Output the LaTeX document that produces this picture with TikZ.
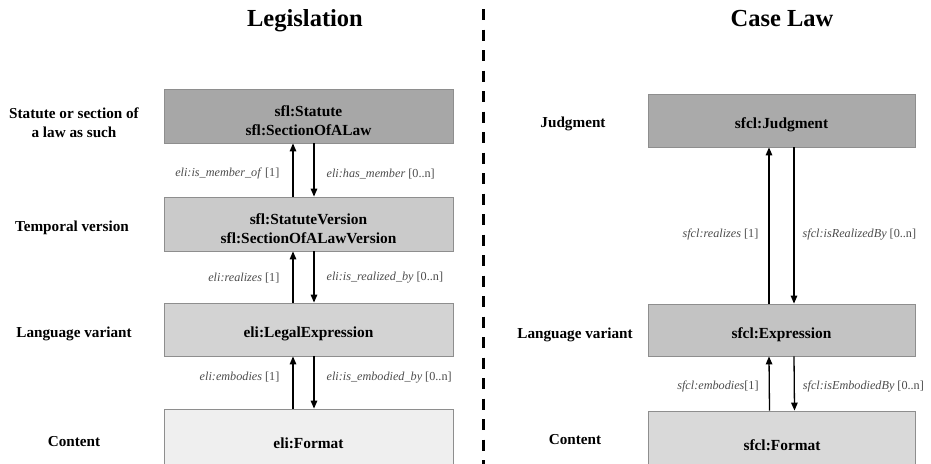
\documentclass[tikz,border=0pt]{standalone}
\usepackage{fontspec}
\setmainfont{Liberation Serif}
\usetikzlibrary{arrows.meta}
\definecolor{legA}{HTML}{A7A7A7}
\definecolor{legB}{HTML}{CACACA}
\definecolor{legC}{HTML}{D3D3D3}
\definecolor{legD}{HTML}{EFEFEF}
\definecolor{caseA}{HTML}{AAAAAA}
\definecolor{caseB}{HTML}{C3C3C3}
\definecolor{caseC}{HTML}{D9D9D9}
\definecolor{boxline}{HTML}{8E8E8E}
\tikzset{
  cls/.style={draw=boxline,line width=0.8pt,minimum width=289pt,minimum height=54pt,
    inner sep=0pt,align=center,text height=17pt,text depth=1pt,
    font=\fontsize{15.4}{19}\selectfont\bfseries},
  twoline/.style={text height=39.5pt,text depth=0pt},
  side/.style={align=center,font=\fontsize{15.2}{19}\selectfont\bfseries},
  rel/.style={-{Triangle[length=8pt,width=6.5pt]},line width=1.3pt},
  lbl/.style={font=\fontsize{12.2}{14}\selectfont,text=black!70,inner sep=0pt}
}
\begin{document}
\begin{tikzpicture}[x=1pt,y=-1pt]
\clip (0,0) rectangle (931,463);
% titles and divider
\node (legt) [anchor=base,font=\fontsize{24.5}{28}\selectfont\bfseries] at (305,26) {Legislation};
\node (caset) [anchor=base,font=\fontsize{24.5}{28}\selectfont\bfseries] at (782,26) {Case Law};
\coordinate (divtop) at (483,9);
\coordinate (divbot) at (483,470);
\draw[line width=3pt,dash pattern=on 11pt off 9.5pt] (divtop) -- (divbot);
%
\node (stat) [cls,twoline,fill=legA] at (308.5,116) {sfl:Statute\\sfl:SectionOfALaw};
\node (stver) [cls,twoline,fill=legB] at (308.5,224) {sfl:StatuteVersion\\sfl:SectionOfALawVersion};
\node (lexp) [cls,fill=legC,minimum height=53pt] at (308.5,329.5) {eli:LegalExpression};
\node (lfmt) [cls,fill=legD,minimum height=62pt] at (308.5,440) {eli:Format};
%
\node (statl) [side] at (74,123) {Statute or section of\\a law as such};
\node (stverl) [side] at (72,228) {Temporal version};
\node (lexpl) [side] at (74,334) {Language variant};
\node (lfmtl) [side] at (74,442) {Content};
%
\draw[rel] ([xshift=-15.5pt]stver.north) -- ([xshift=-15.5pt]stat.south)
  node[lbl,pos=0.43,left=13pt] {\textit{eli:is\_member\_of} [1]};
\draw[rel] ([xshift=5.5pt]stat.south) -- ([xshift=5.5pt]stver.north)
  node[lbl,pos=0.57,right=12pt] {\textit{eli:has\_member} [0..n]};
\draw[rel] ([xshift=-15.5pt]lexp.north) -- ([xshift=-15.5pt]stver.south)
  node[lbl,pos=0.48,left=13pt] {\textit{eli:realizes} [1]};
\draw[rel] ([xshift=5.5pt]stver.south) -- ([xshift=5.5pt]lexp.north)
  node[lbl,pos=0.52,right=12pt] {\textit{eli:is\_realized\_by} [0..n]};
\draw[rel] ([xshift=-15.5pt]lfmt.north) -- ([xshift=-15.5pt]lexp.south)
  node[lbl,pos=0.6,left=13pt] {\textit{eli:embodies} [1]};
\draw[rel] ([xshift=5.5pt]lexp.south) -- ([xshift=5.5pt]lfmt.north)
  node[lbl,pos=0.4,right=12pt] {\textit{eli:is\_embodied\_by} [0..n]};
%
\node (judg) [cls,fill=caseA,minimum width=267pt,minimum height=53pt] at (781.5,120.5) {sfcl:Judgment};
\node (cexp) [cls,fill=caseB,minimum width=267pt,minimum height=52pt] at (781.5,330) {sfcl:Expression};
\node (cfmt) [cls,fill=caseC,minimum width=267pt,minimum height=62pt] at (782,442) {sfcl:Format};
%
\node (judgl) [side] at (573,124) {Judgment};
\node (cexpl) [side] at (575,335) {Language variant};
\node (cfmtl) [side] at (575,440) {Content};
%
\draw[rel] ([xshift=-12.5pt]cexp.north) -- ([xshift=-12.5pt]judg.south)
  node[lbl,pos=0.44,left=10pt] {\textit{sfcl:realizes} [1]};
\draw[rel] ([xshift=12.5pt]judg.south) -- ([xshift=12.5pt]cexp.north)
  node[lbl,pos=0.56,right=8pt] {\textit{sfcl:isRealizedBy} [0..n]};
\draw[rel] ([xshift=-12.5pt]cfmt.north) -- ([xshift=-12.5pt]cexp.south)
  node[lbl,pos=0.45,left=10pt] {\textit{sfcl:embodies}[1]};
\draw[rel] ([xshift=12.5pt]cexp.south) -- ([xshift=12.5pt]cfmt.north)
  node[lbl,pos=0.55,right=8pt] {\textit{sfcl:isEmbodiedBy} [0..n]};
\end{tikzpicture}
\end{document}
